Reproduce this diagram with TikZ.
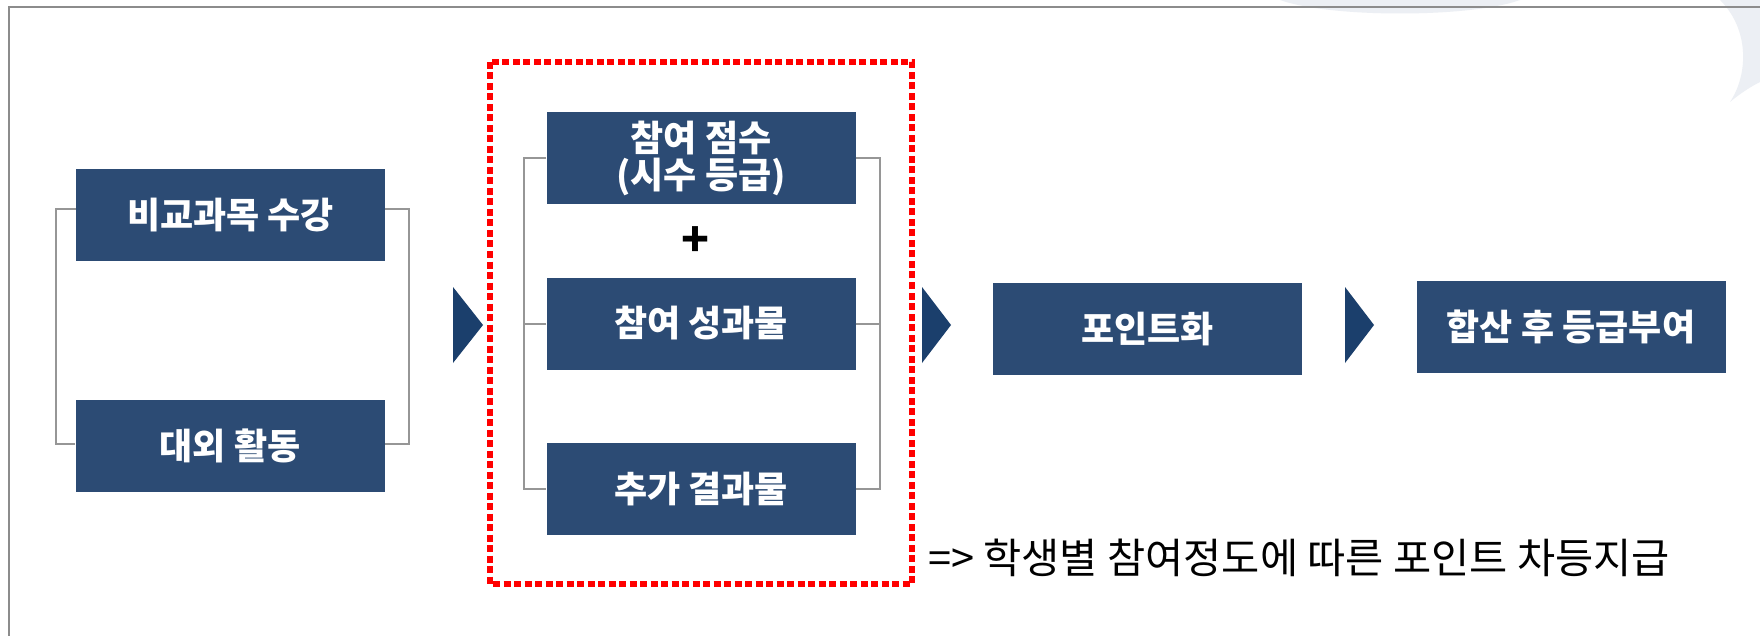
\documentclass[tikz,border=0pt]{standalone}
\usepackage{fontspec}
\setmainfont{Noto Sans CJK KR}
\definecolor{boxblue}{RGB}{44,75,116}
\definecolor{arrowblue}{RGB}{27,63,108}
\definecolor{brgray}{RGB}{150,150,150}
\definecolor{framegray}{RGB}{140,140,140}
\definecolor{deco}{RGB}{236,239,244}
\definecolor{hlred}{RGB}{255,0,0}
\begin{document}
\begin{tikzpicture}[x=1pt,y=-1pt,
  box/.style={fill=boxblue, minimum width=309pt, minimum height=92pt, inner sep=0pt,
    text=white, font=\fontsize{36}{37}\selectfont\bfseries, align=center},
  bracket/.style={draw=brgray, line width=2pt},
  chev/.style={fill=arrowblue},
  reddash/.style={draw=hlred, line width=6pt, dash pattern=on 7pt off 3.5pt}]
\useasboundingbox (0,0) rectangle (1760,636);
\fill[white] (0,0) rectangle (1760,636);
% decorative background shapes
\fill[deco] (1280,0) .. controls (1330,18) and (1470,18) .. (1520,0) -- cycle;
\fill[deco] (1720,0) .. controls (1750,30) and (1748,75) .. (1730,102) .. controls (1742,92) and (1752,86) .. (1760,82) -- (1760,0) -- cycle;
% frame
\draw[framegray, line width=2.2pt] (9,636) -- (9,7) -- (1760,7);
% left group
\node[box] (b1) at (230.5,215) {비교과목 수강};
\node[box] (b2) at (230,445.5) {대외 활동};
\draw[bracket] ([yshift=6pt]b1.west) -- ++(-20,0) |- ([yshift=2pt]b2.west);
\draw[bracket] ([yshift=6pt]b1.east) -- ++(24,0) |- ([yshift=2pt]b2.east);
% arrow 1
\fill[chev] (453,287) -- (483,325) -- (453,363) -- cycle;
% highlighted group
\draw[reddash] (490,62) rectangle (912,584);
\node[box] (pa) at (701,158.5) {참여 점수\\(시수 등급)};
\node[box] (pb) at (701,323.5) {참여 성과물};
\node[box] (pc) at (701,489) {추가 결과물};
\node[font=\fontsize{46}{46}\selectfont\bfseries] (plus) at (695,242) {+};
\draw[bracket] (pa.west) -- ++(-22,0) |- (pc.west);
\draw[bracket] (pb.west) -- ++(-22,0);
\draw[bracket] (pa.east) -- ++(24,0) |- (pc.east);
\draw[bracket] (pb.east) -- ++(24,0);
% arrow 2
\fill[chev] (922,287) -- (951,325) -- (922,363) -- cycle;
\node[box] (pt) at (1147.5,329) {포인트화};
% arrow 3
\fill[chev] (1345,287) -- (1374,325) -- (1345,363) -- cycle;
\node[box] (hs) at (1571,327) {합산 후 등급부여};
% note
\node[anchor=west, inner sep=0pt, font=\fontsize{41.5}{44}\selectfont] (note) at (928,558) {=> 학생별 참여정도에 따른 포인트 차등지급};
\end{tikzpicture}
\end{document}
